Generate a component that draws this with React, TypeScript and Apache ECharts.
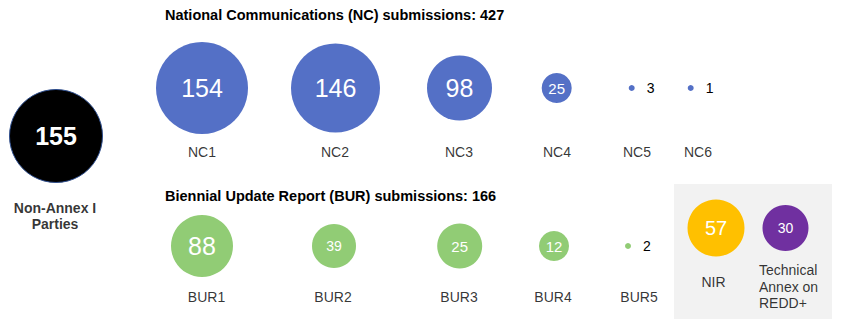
import React, { useEffect, useRef } from "react";
import * as echarts from "echarts";

// ---- data ----
const ncNames = ["NC1", "NC2", "NC3", "NC4", "NC5", "NC6"];
const ncValues = [154, 146, 98, 25, 3, 1];
const burNames = ["BUR1", "BUR2", "BUR3", "BUR4", "BUR5"];
const burValues = [88, 39, 25, 12, 2];
const partiesName = "Non-Annex I\nParties";
const partiesValue = 155;
const extraNames = ["NIR", "Technical\nAnnex on\nREDD+"];
const extraValues = [57, 30];

// ---- layout (pixel positions & sizes) ----
const ncX = [202, 335.5, 459.5, 556.7, 631.7, 690.7];
const ncY = 88;
const ncSizes = [92, 89, 65, 30, 6, 6];
const ncFont = [25, 25, 25, 15, 14, 14];
const ncLabelX = [202, 335, 459, 557, 637, 698];
const ncLabelY = 152;

const burX = [202, 334, 459.7, 554, 628];
const burY = 246;
const burSizes = [62, 44, 45, 30, 6];
const burFont = [25, 14, 15, 15, 14];
const burLabelX = [206.5, 333, 459, 553, 639];
const burLabelY = 297;

const partiesPos = [56, 136];
const partiesSize = 93;
const partiesLabelPos = [55, 216];

const extraX = [716, 785.5];
const extraY = 228;
const extraSizes = [57, 46];
const extraFont = [20, 14];
const extraColors = ["#ffc000", "#7030a0"];
const extraLabelPos = [
  [713.5, 282],
  [759, 286.5],
];

const FONT = "'Liberation Sans', Arial, sans-serif";

function bubbleItems(xs: number[], y: number, vals: number[], sizes: number[], fonts: number[]) {
  return vals.map((v, i) => {
    const small = sizes[i] < 12;
    return {
      value: [xs[i], y, v],
      symbolSize: sizes[i],
      label: small
        ? { show: true, position: "right", distance: 12, color: "#000", fontSize: fonts[i] }
        : { show: true, position: "inside", color: "#fff", fontSize: fonts[i] },
    };
  });
}

export default function App() {
  const ref = useRef<HTMLDivElement>(null);
  useEffect(() => {
    if (!ref.current) return;
    const chart = echarts.init(ref.current, null, { renderer: "svg" });
    const ncTotal = ncValues.reduce((a, b) => a + b, 0);
    const burTotal = burValues.reduce((a, b) => a + b, 0);
    const valueLabel = (p: any) => String(p.value[2]);
    const nameLabel = (p: any) => p.name;

    chart.setOption({
      animation: false,
      backgroundColor: "#ffffff",
      textStyle: { fontFamily: FONT },
      title: [
        {
          text: `National Communications (NC) submissions: ${ncTotal}`,
          left: 165,
          top: 7,
          padding: 0,
          textStyle: { fontSize: 14.5, fontWeight: "bold", color: "#000", fontFamily: FONT },
        },
        {
          text: `Biennial Update Report (BUR) submissions: ${burTotal}`,
          left: 165,
          top: 188.5,
          padding: 0,
          textStyle: { fontSize: 14.5, fontWeight: "bold", color: "#000", fontFamily: FONT },
        },
      ],
      graphic: [
        {
          type: "rect",
          z: -10,
          shape: { x: 674, y: 184, width: 158, height: 135 },
          style: { fill: "#f2f2f2" },
        },
      ],
      grid: { left: 0, right: 0, top: 0, bottom: 0 },
      xAxis: { type: "value", min: 0, max: 841, show: false },
      yAxis: { type: "value", min: 0, max: 329, inverse: true, show: false },
      series: [
        {
          type: "scatter",
          name: "parties",
          itemStyle: { color: "#000", borderColor: "#2f4f8f", borderWidth: 1, opacity: 1 },
          label: { show: true, position: "inside", formatter: valueLabel, color: "#fff", fontSize: 25, fontWeight: "bold", fontFamily: FONT },
          data: [{ value: [partiesPos[0], partiesPos[1], partiesValue], symbolSize: partiesSize }],
        },
        {
          type: "scatter",
          name: "NC",
          itemStyle: { color: "#5470c6", opacity: 1 },
          label: { formatter: valueLabel, fontFamily: FONT },
          data: bubbleItems(ncX, ncY, ncValues, ncSizes, ncFont),
        },
        {
          type: "scatter",
          name: "BUR",
          itemStyle: { color: "#91cc75", opacity: 1 },
          label: { formatter: valueLabel, fontFamily: FONT },
          data: bubbleItems(burX, burY, burValues, burSizes, burFont),
        },
        {
          type: "scatter",
          name: "extra",
          label: { show: true, position: "inside", formatter: valueLabel, color: "#fff", fontFamily: FONT },
          data: extraValues.map((v, i) => ({
            value: [extraX[i], extraY, v],
            symbolSize: extraSizes[i],
            itemStyle: { color: extraColors[i], opacity: 1 },
            label: { fontSize: extraFont[i] },
          })),
        },
        {
          type: "scatter",
          name: "names",
          symbolSize: 0,
          silent: true,
          label: { show: true, position: "inside", formatter: nameLabel, color: "#000", fontSize: 14, fontFamily: FONT },
          data: [
            ...ncNames.map((n, i) => ({ name: n, value: [ncLabelX[i], ncLabelY] })),
            ...burNames.map((n, i) => ({ name: n, value: [burLabelX[i], burLabelY] })),
            {
              name: partiesName,
              value: partiesLabelPos,
              label: { fontWeight: "bold", lineHeight: 16 },
            },
            { name: extraNames[0], value: extraLabelPos[0] },
            {
              name: extraNames[1],
              value: extraLabelPos[1],
              label: { position: "right", distance: 0, align: "left", lineHeight: 16.5 },
            },
          ],
        },
      ],
    });
    return () => chart.dispose();
  }, []);
  return (
    <div
      ref={ref}
      style={{ position: "fixed", left: 0, top: 0, width: 841, height: 329 }}
    />
  );
}
